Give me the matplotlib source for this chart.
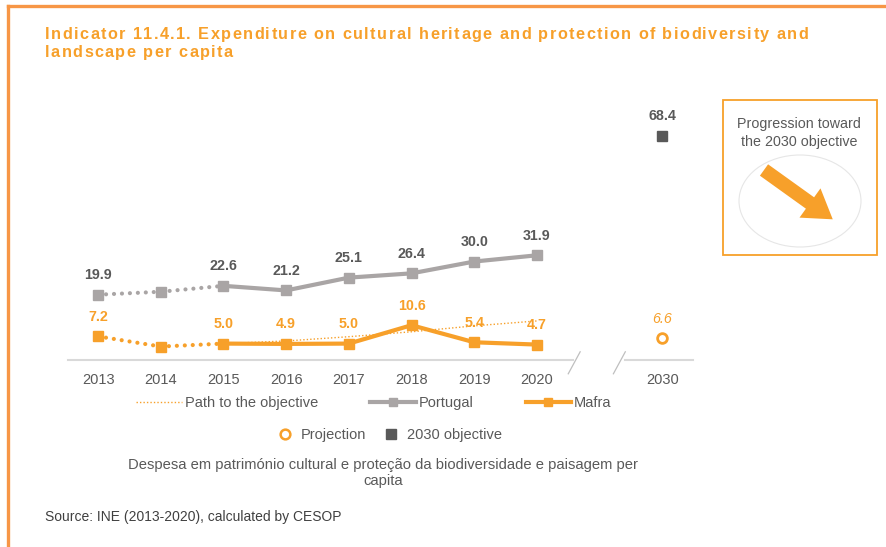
import matplotlib
matplotlib.use("Agg")
import matplotlib.pyplot as plt
from matplotlib.lines import Line2D
from matplotlib.patches import Ellipse, FancyArrow, Rectangle
from matplotlib.transforms import IdentityTransform
from matplotlib.font_manager import FontProperties, findfont
from matplotlib.ft2font import FT2Font

plt.rcParams["font.family"] = ["Liberation Sans", "DejaVu Sans"]

# data
years = ["2013", "2014", "2015", "2016", "2017", "2018", "2019", "2020"]
portugal = [19.9, 20.8, 22.6, 21.2, 25.1, 26.4, 30.0, 31.9]
mafra = [7.2, 4.1, 5.0, 4.9, 5.0, 10.6, 5.4, 4.7]
path_years = ["2015", "2016", "2017", "2018", "2019", "2020"]
path_values = [5.0, 5.8, 7.1, 8.6, 10.4, 11.9]
objective_year = "2030"
objective_value = 68.4
projection_value = 6.6
labelled = ["2013", "2015", "2016", "2017", "2018", "2019", "2020"]

ORANGE = "#F7A02A"
FRAME = "#F79646"
GREY = "#A9A5A5"
DARK = "#595959"
DOTS = (0, (0.01, 1.9))

W, H = 887, 547
fig = plt.figure(figsize=(W / 100, H / 100), dpi=100)


def spaced_text(x_px, y_px, s, size, spacing, color):
    """Draw bold text char by char with extra letter spacing (pixels)."""
    prop = FontProperties(family="Liberation Sans", weight="bold", size=size)
    font = FT2Font(findfont(prop), hinting_factor=1)
    font.set_size(size, fig.dpi)
    x = x_px
    for c in s:
        fig.text(x / W, 1 - y_px / H, c, fontproperties=prop, color=color,
                 va="baseline", ha="left")
        x += font.load_char(ord(c)).linearHoriAdvance / 65536 + spacing


# frame (top + left edge)
fig.add_artist(Line2D([8 / W, 1], [1 - 6 / H, 1 - 6 / H], color=FRAME, lw=2.4,
                      transform=fig.transFigure))
fig.add_artist(Line2D([8 / W, 8 / W], [0, 1 - 6 / H], color=FRAME, lw=2.4,
                      transform=fig.transFigure))

spaced_text(45, 39, "Indicator 11.4.1. Expenditure on cultural heritage and "
            "protection of biodiversity and", 11.7, 1.55, ORANGE)
spaced_text(45, 57, "landscape per capita", 11.7, 1.55, ORANGE)

ax = fig.add_axes([68 / W, 187 / H, 625 / W, 256 / H])
pos = {y: i for i, y in enumerate(years)}
pos[objective_year] = 9
xs = [pos[y] for y in years]

# Portugal / Mafra: dotted before 2015, solid after
ax.plot(xs[:3], portugal[:3], color=GREY, lw=3, ls=DOTS,
        dash_capstyle="round", zorder=2)
ax.plot(xs[2:], portugal[2:], color=GREY, lw=3, zorder=2)
ax.plot(xs, portugal, ls="none", marker="s", ms=7.5, color=GREY, zorder=3)

ax.plot(xs[:3], mafra[:3], color=ORANGE, lw=3, ls=DOTS,
        dash_capstyle="round", zorder=2)
ax.plot(xs[2:], mafra[2:], color=ORANGE, lw=3, zorder=2)
ax.plot(xs, mafra, ls="none", marker="s", ms=7.5, color=ORANGE, zorder=3)

ax.plot([pos[y] for y in path_years], path_values, color=ORANGE, lw=1,
        ls=(0, (1, 1.5)), zorder=1)

ax.plot([pos[objective_year]], [objective_value], ls="none", marker="s", ms=7,
        color=DARK)
ax.plot([pos[objective_year]], [projection_value], ls="none", marker="o", ms=7,
        mfc="white", mec=ORANGE, mew=2)

for y in labelled:
    ax.annotate(f"{portugal[pos[y]]:.1f}", (pos[y], portugal[pos[y]]),
                xytext=(0, 14), textcoords="offset points", ha="center",
                va="center", fontsize=10.3, fontweight="bold", color=DARK)
    ax.annotate(f"{mafra[pos[y]]:.1f}", (pos[y], mafra[pos[y]]),
                xytext=(0, 14), textcoords="offset points", ha="center",
                va="center", fontsize=10.3, fontweight="bold", color=ORANGE)
ax.annotate(f"{objective_value:.1f}", (pos[objective_year], objective_value),
            xytext=(0, 14), textcoords="offset points", ha="center",
            va="center", fontsize=10.3, fontweight="bold", color=DARK)
ax.annotate(f"{projection_value:.1f}", (pos[objective_year], projection_value),
            xytext=(0, 14), textcoords="offset points", ha="center",
            va="center", fontsize=10.3, style="italic", color=ORANGE)

ax.set_xlim(-0.48, 9.49)
ax.set_ylim(0, 78)
for s in ax.spines.values():
    s.set_visible(False)
ax.set_yticks([])
ax.set_xticks(xs + [pos[objective_year]])
ax.set_xticklabels(years + [objective_year], fontsize=10.5, color=DARK)
ax.tick_params(axis="x", length=0, pad=9)

# broken baseline
ax.plot([-0.48, 7.58], [0, 0], color="#D9D9D9", lw=1.5, clip_on=False, zorder=0)
ax.plot([8.41, 9.49], [0, 0], color="#D9D9D9", lw=1.5, clip_on=False, zorder=0)
for bx in (7.5, 8.22):
    ax.plot([bx, bx + 0.19], [-4.2, 2.5], color="#BFBFBF", lw=0.9, clip_on=False)

# legends
h_path = Line2D([], [], color=ORANGE, lw=1, ls=(0, (1, 1.5)))
h_pt = Line2D([], [], color=GREY, lw=3, marker="s", ms=6)
h_mf = Line2D([], [], color=ORANGE, lw=3, marker="s", ms=6)
fig.legend([h_path, h_pt, h_mf], ["Path to the objective", "Portugal", "Mafra"],
           loc="center", bbox_to_anchor=(374 / W, 1 - 403 / H), ncol=3,
           frameon=False, fontsize=10.5, handlelength=3.1, handletextpad=0.2,
           columnspacing=3.6, numpoints=1, labelcolor=DARK)
h_proj = Line2D([], [], ls="none", marker="o", ms=7, mfc="white", mec=ORANGE, mew=1.8)
h_obj = Line2D([], [], ls="none", marker="s", ms=7, color=DARK)
fig.legend([h_proj, h_obj], ["Projection", "2030 objective"], loc="center",
           bbox_to_anchor=(390 / W, 1 - 435 / H), ncol=2, frameon=False,
           fontsize=10.5, handlelength=1.0, handletextpad=0.6, columnspacing=1.2,
           labelcolor=DARK)

fig.text(383 / W, 1 - 473 / H,
         "Despesa em património cultural e proteção da biodiversidade e paisagem per\ncapita",
         ha="center", va="center", fontsize=10.6, color=DARK, linespacing=1.15)
fig.text(45 / W, 1 - 517 / H, "Source: INE (2013-2020), calculated by CESOP",
         ha="left", va="center", fontsize=10, color="#404040")

# progression box
fig.add_artist(Rectangle((723, H - 255), 154, 155, fill=False, ec=ORANGE, lw=1.3,
                         transform=IdentityTransform()))
fig.text(799 / W, 1 - 133 / H, "Progression toward\nthe 2030 objective",
         ha="center", va="center", fontsize=10.3, color=DARK, linespacing=1.45)
fig.add_artist(Ellipse((800, H - 201), 122, 92, fill=False, ec="#E6E6E6", lw=0.8,
                       transform=IdentityTransform()))
fig.add_artist(FancyArrow(764, H - 170, 46, -33, width=14, head_width=36,
                          head_length=28, length_includes_head=False,
                          color=ORANGE, lw=0, transform=IdentityTransform()))

fig.savefig("out.png", dpi=100)
